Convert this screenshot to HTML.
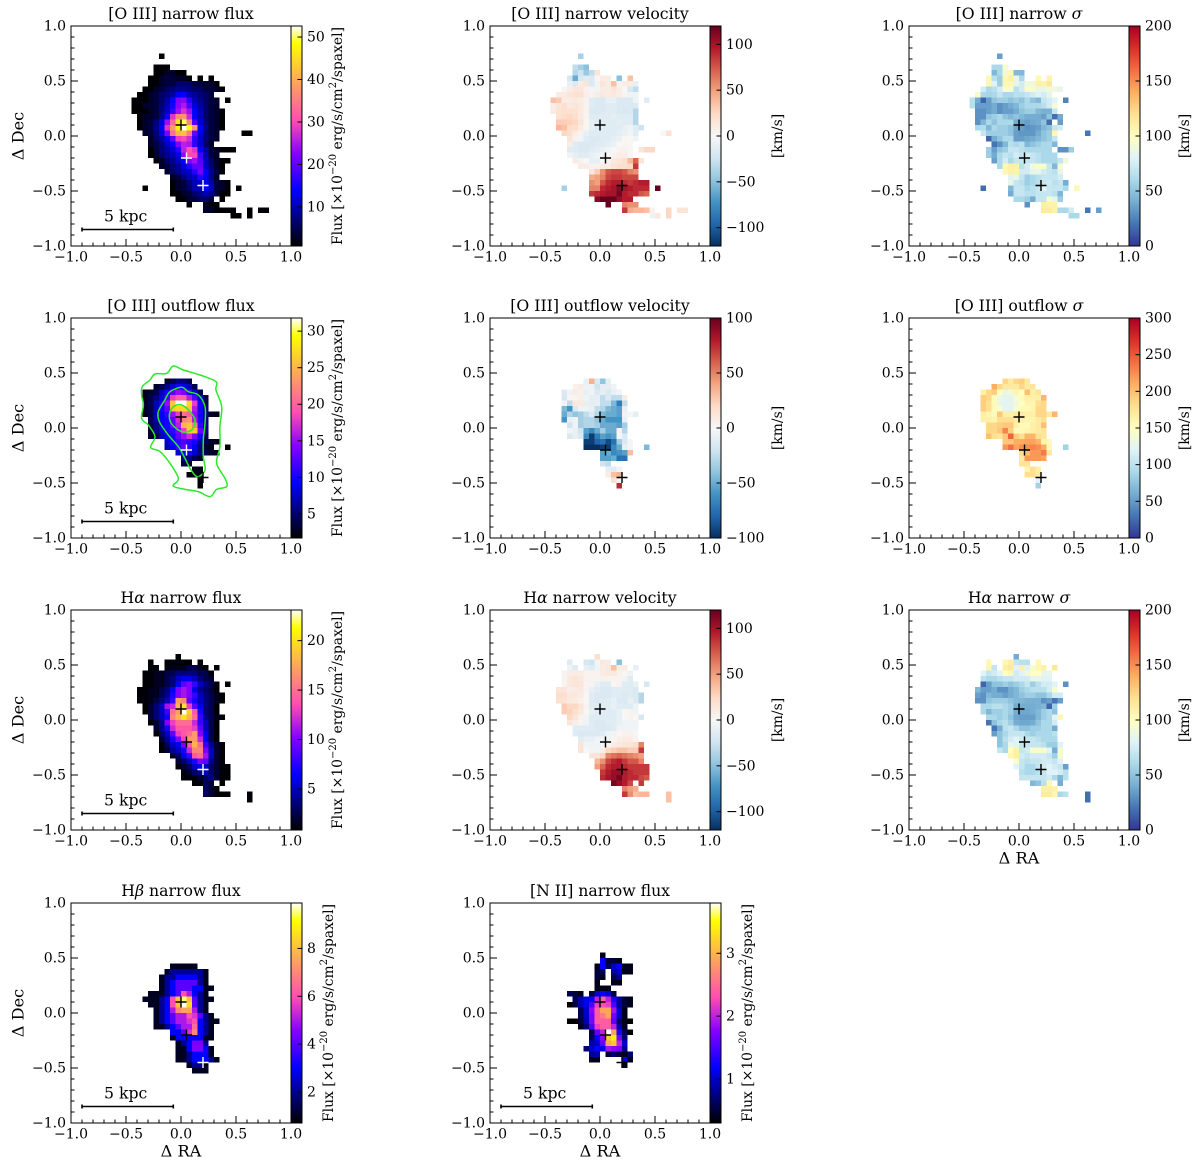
<!DOCTYPE html>
<html lang="en">
<head>
<meta charset="utf-8">
<title>Emission line maps</title>
<style>
html,body{margin:0;padding:0;background:#fff}
svg{display:block;filter:blur(0.3px)}
text{font-family:"DejaVu Serif","Liberation Serif",serif;fill:#000}
.t{font-size:15.7px;text-anchor:middle}
.a{font-size:16.2px;text-anchor:middle;dominant-baseline:central}
.c{font-size:13.9px;text-anchor:middle;dominant-baseline:central}
.tick{font-size:14px}
</style>
</head>
<body>
<svg id="figure" xmlns="http://www.w3.org/2000/svg" width="1200" height="1164" viewBox="0 0 1200 1164">
<rect width="1200" height="1164" fill="#fff"/>

<g id="p-o3-flux">
<text class="t" x="181" y="19">[O III] narrow flux</text>
<text class="a" x="18" y="136" transform="rotate(-90 18 136)">Δ Dec</text>
<text class="c" x="338" y="136" transform="rotate(-90 338 136)">Flux [×10<tspan dy="-5" font-size="10">−20</tspan><tspan dy="5"> erg/s/cm</tspan><tspan dy="-5" font-size="10">2</tspan><tspan dy="5">/spaxel]</tspan></text>
</g>
<g id="p-o3-vel">
<text class="t" x="600" y="19">[O III] narrow velocity</text>
<text class="c" x="778" y="136" transform="rotate(-90 778 136)">[km/s]</text>
</g>
<g id="p-o3-sig">
<text class="t" x="1019" y="19">[O III] narrow <tspan font-style="italic">σ</tspan></text>
<text class="c" x="1185" y="136" transform="rotate(-90 1185 136)">[km/s]</text>
</g>

<g id="p-out-flux">
<text class="t" x="181" y="311">[O III] outflow flux</text>
<text class="a" x="18" y="428" transform="rotate(-90 18 428)">Δ Dec</text>
<text class="c" x="338" y="428" transform="rotate(-90 338 428)">Flux [×10<tspan dy="-5" font-size="10">−20</tspan><tspan dy="5"> erg/s/cm</tspan><tspan dy="-5" font-size="10">2</tspan><tspan dy="5">/spaxel]</tspan></text>
</g>
<g id="p-out-vel">
<text class="t" x="600" y="311">[O III] outflow velocity</text>
<text class="c" x="778" y="428" transform="rotate(-90 778 428)">[km/s]</text>
</g>
<g id="p-out-sig">
<text class="t" x="1019" y="311">[O III] outflow <tspan font-style="italic">σ</tspan></text>
<text class="c" x="1185" y="428" transform="rotate(-90 1185 428)">[km/s]</text>
</g>

<g id="p-ha-flux">
<text class="t" x="181" y="603">H<tspan font-style="italic">α</tspan> narrow flux</text>
<text class="a" x="18" y="720" transform="rotate(-90 18 720)">Δ Dec</text>
<text class="c" x="338" y="720" transform="rotate(-90 338 720)">Flux [×10<tspan dy="-5" font-size="10">−20</tspan><tspan dy="5"> erg/s/cm</tspan><tspan dy="-5" font-size="10">2</tspan><tspan dy="5">/spaxel]</tspan></text>
</g>
<g id="p-ha-vel">
<text class="t" x="600" y="603">H<tspan font-style="italic">α</tspan> narrow velocity</text>
<text class="c" x="778" y="720" transform="rotate(-90 778 720)">[km/s]</text>
</g>
<g id="p-ha-sig">
<text class="t" x="1019" y="603">H<tspan font-style="italic">α</tspan> narrow <tspan font-style="italic">σ</tspan></text>
<text class="c" x="1185" y="720" transform="rotate(-90 1185 720)">[km/s]</text>
<text class="a" x="1019" y="858">Δ RA</text>
</g>

<g id="p-hb-flux">
<text class="t" x="181" y="896">H<tspan font-style="italic">β</tspan> narrow flux</text>
<text class="a" x="18" y="1013" transform="rotate(-90 18 1013)">Δ Dec</text>
<text class="a" x="181" y="1151">Δ RA</text>
<text class="c" x="329" y="1013" transform="rotate(-90 329 1013)">Flux [×10<tspan dy="-5" font-size="10">−20</tspan><tspan dy="5"> erg/s/cm</tspan><tspan dy="-5" font-size="10">2</tspan><tspan dy="5">/spaxel]</tspan></text>
</g>
<g id="p-n2-flux">
<text class="t" x="600" y="896">[N II] narrow flux</text>
<text class="a" x="600" y="1151">Δ RA</text>
<text class="c" x="748" y="1013" transform="rotate(-90 748 1013)">Flux [×10<tspan dy="-5" font-size="10">−20</tspan><tspan dy="5"> erg/s/cm</tspan><tspan dy="-5" font-size="10">2</tspan><tspan dy="5">/spaxel]</tspan></text>
</g>
</svg>

<script>
// Every row below is [gridRow, firstColumn, value, value, ...]; a grid cell spans 0.05 in data units.
const o3NarrowFlux=[[5,16,1],[7,15,1,1,1],[8,15,1,1,3,3,1,1],[9,14,1,1,3,4,4,3,3,1],[9,23,1],[9,25,1],
[10,14,1,1,3,4,4,6,6,6,4,4,3,3,1],[11,13,1,1,3,4,6,7,8,8,7,6,6,4,4,3,1],[12,12,1,1,3,4,6,7,9,13,14,10,9,7,6,4],
[13,11,1,1,1,3,4,6,9,14,22,23,16,10,8,6,4,3],[13,28,1],[14,11,1,1,3,3,4,7,10,15,23,25,19,12,9,6,4,3],
[15,11,1,1,1,3,4,7,11,17,24,28,24,14,10,6,4,3,1],[16,12,1,3,3,4,8,14,28,37,38,27,14,10,6,4,3,1],
[17,12,1,3,4,7,12,24,33,45,50,36,19,11,7,4,3,1],[18,12,1,3,4,8,13,28,38,47,53,48,38,14,8,4,3,1],
[19,13,3,4,7,12,22,34,41,42,35,20,12,7,4,3],[19,31,1,1],[20,14,3,6,9,13,20,29,30,27,17,11,7,4,3],
[21,14,3,4,7,11,14,22,26,25,17,11,6,3],[22,14,1,4,7,9,12,16,26,31,28,14,9,4,3,1,1,1],
[23,14,1,3,6,8,10,12,23,30,30,18,10,4,3],[24,15,1,3,6,8,11,14,22,24,19,11,6,3,1,1],[25,16,3,4,7,9,12,16,20,20,11,7,3,1],
[26,17,3,6,8,10,11,16,21,14,8,4,1],[27,18,3,4,7,10,11,16,13,8,3],[28,18,1,3,4,7,10,11,13,10,4,3,1],
[29,13,1],[29,18,1,3,4,6,9,10,14,11,4,3,1],[29,30,1],[30,18,1,1,3,4,6,8,10,8,4,1,1],[31,19,1,1,3,4,6,6,4],[31,27,1],
[32,21,1],[32,24,3,1,1],[33,24,3,3,1,1,1,1],[33,32,1],[33,34,1,1],[34,29,1,1],[34,32,1]];

const o3NarrowVelocity=[[5,16,-40],[7,15,-30,-40,-50],[8,15,-35,-25,-45,-30,15],[9,14,-20,-60,-20,-15,-18,2,10,10],[9,23,-50],[9,25,35],
[10,14,-10,-18,10,15,-18,-4,15,10,35,5,10,10,-10],[11,13,2,8,15,15,5,3,-4,10,10,15,8,0,-20,-30],
[12,12,10,10,15,18,18,8,3,8,12,10,12,8,3,-6,-6],[13,11,35,30,10,10,12,10,5,-15,-18,-18,-10,-10,-18,-18,-18,-6],[13,28,-15],
[14,11,8,15,20,12,15,12,3,-15,-18,-18,-15,-15,-18,-18,-18,-18],[15,11,10,18,20,18,18,12,5,-18,-18,-18,-15,-15,-18,-20,-18,-35],
[16,12,18,22,25,20,12,3,-15,-15,-15,-15,-12,-15,-15,-15,-35],[17,12,30,30,28,25,15,2,-10,-15,-15,-15,-15,-12,-15,-15,-35],
[18,12,40,35,22,22,10,2,-10,-15,-15,-15,-15,-15,-10,-6,-15,-25],[19,13,25,22,10,5,-10,-15,-15,-15,-15,-15,-12,-8,-4,-15],[19,31,-1,18],
[20,14,15,5,-4,-15,-18,-18,-15,-15,-12,-8,2,0,-4],[21,14,8,-15,-18,-18,-18,-15,-15,-12,-8,0,2,2],
[22,14,-15,-15,-18,-18,-15,-12,-8,-4,0,3,5,2],[22,27,15,25,25],[23,14,-4,-10,-15,-15,-10,-6,-4,0,5,8,8,0],
[24,15,10,5,0,-10,-10,0,5,12,15,20,40,70,15],[25,16,10,8,5,5,8,10,15,20,20,25,85],[26,18,15,30,55,75,80,80,75,60,55],
[27,18,45,50,60,80,85,85,80,80,80],[28,18,55,50,75,90,95,95,90,85,90,95,95],[29,13,-40],
[29,18,60,60,90,95,100,110,100,95,90,90,90],[29,30,125],[30,18,85,90,95,100,100,115,95,90,90,75,70],
[31,19,110,120,120,120,105,95,95],[32,21,125],[32,24,60,55,55],[33,24,85,45,40,40,35,5],[33,32,25],[33,34,15,15],[34,29,-5,12],[34,32,25]];

const o3NarrowSigma=[[5,16,35],[7,15,60,60,95],[8,15,45,60,90,105,45,45],[9,14,105,65,55,105,110,85,60],[9,23,105],[9,25,108],
[10,14,105,80,55,105,105,85,75,90,90,110,108,115],[11,13,75,60,65,75,95,95,65,75,95,95,85,85,90,90,85],
[12,12,95,60,58,60,70,60,60,65,65,70,75,80,75,85],[13,11,65,40,15,35,50,55,55,50,55,50,60,50,45,70,75,80],[13,28,25],
[14,11,65,35,35,35,40,30,35,40,45,55,60,60,60,65,75,95],[15,12,30,30,35,40,30,35,35,40,50,55,55,45,42,42,70],
[16,12,30,30,50,55,60,50,45,50,45,40,40,40,35,50,18,40],[17,12,30,45,60,50,60,60,60,40,38,35,38,40,50,18],[17,27,35],
[18,12,60,62,45,60,55,55,50,38,35,30,32,35,45,50,70,75],[19,13,70,55,55,55,55,50,35,32,32,32,40,50,55,105],[19,32,20],
[20,14,15,40,50,60,60,35,35,38,40,45,50,55,70],[21,15,20,30,45,65,60,65,45,50,55,60,60,45],
[22,14,55,35,50,55,70,70,65,60,60,60,60,60],[22,27,30,30,55],[23,14,55,40,60,70,65,75,70,75,70,65,60,60,60],
[24,15,35,60,75,60,70,70,70,70,65,60,60,60,70,90],[25,16,60,105,110,110,65,75,90,95,95,70,45,95],[26,17,105,110,108,75,75,85,85,75,70,65,85],
[27,18,80,85,70,55,60,65,70,70,70,75],[28,18,85,70,65,55,60,65,70,72,65,70,40],[29,13,18],
[29,18,45,70,70,60,65,70,80,70,70,70,60],[29,30,105],[30,18,40,70,70,65,65,70,70,70,65,45],[31,19,60,60,55,40,70,70,95,85,55],
[32,21,30],[32,24,110,108,108],[33,24,112,112,108,60,60,75],[33,32,20],[33,34,35],[34,29,60,60]];

const outflowFlux=[[11,17,3,4,5.5,5.5,4],[12,15,3,4,5.5,8,10,9,7,4],[13,13,2.5,3,4,7,10,13,15,14,11,8,4],[14,13,2.5,4,5.5,8,12,18,20,20,16,12,8,4],
[15,13,3,4,7,10,15,26,32,32,27,18,10,4],[16,13,3,4,7,10,13,26,27,27,26,16,10,5.5],[17,13,2.5,4,7,9,11,15,18,21,20,15,10,5.5,3,2.5],
[18,14,4,7,9,10,13,17,22,23,16,10,5.5],[19,14,4,5.5,9,10,13,16,25,26,22,11,5.5],[20,14,3,5.5,8,10,11,14,18,26,26,13,5.5],[21,14,3,4,7,9,10,13,15,17,14,10,4],
[22,17,8,10,11,12,11,10,7,4,3,2.5],[23,17,7,9,11,13,11,9,5.5,3,2.5],[23,28,2],[24,19,8,9,10,8,5.5,4,3,2.5],[25,20,5.5,5.5,4,3],[26,20,4,3],[27,22,2.5,2.5],[28,21,2,2.5,2],[29,23,2],[30,23,2]];

const outflowVelocity=[[11,17,-8,35,-15,-40,-10],[12,15,5,8,-5,-5,-20,-10,-10,-5],[13,13,-15,-3,8,5,-8,-5,-15,-10,-15,-8,-3],
[14,13,-18,2,2,5,-5,-10,-10,-25,-15,-25,-25,8],[15,13,-3,-25,10,10,-8,-10,-8,-25,-25,-45,-70,-25],[16,13,-45,-60,-15,-5,-5,-8,-25,-30,-45,-50,-55,-8],
[17,13,-50,-30,-40,-35,-25,-15,-30,-45,-50,-50,-55,-5,-2,-10],[18,13,-60,-8,-5,-35,-30,-30,-40,-50,-60,-60,-60,-8],
[19,14,-20,-5,-35,-30,-30,-35,-50,-50,-50,-55,-35],[20,14,-3,-8,-20,-55,-65,-50,-35,-50,-50,-3,-30],[21,14,-15,-8,-15,-65,-95,-70,-55,-60,-55,-2,-15],
[22,17,-95,-95,-80,-75,-90,-75,-35,-15,-2],[23,17,-100,-100,-100,-95,-95,-65,-50,-8,-2],[23,28,-45],[24,20,-55,-50,-65,-60,-55,30],[25,20,-55,-55,-50,-75,-75],
[26,20,-20,-25],[27,21,-10,-12,-3],[28,21,8,30,35],[29,22,15,3],[30,23,75]];

const outflowSigma=[[11,17,185,170,185,190,170],[12,15,210,185,170,170,170,185,170,175],[13,13,165,185,190,150,130,135,160,150,200,165,175],
[14,13,190,185,155,130,125,125,140,155,165,165,165,205],[15,13,190,180,155,130,122,125,135,150,160,160,180,185],
[16,13,190,180,155,145,122,122,145,155,155,160,185,185],[17,13,165,160,155,195,165,165,170,170,165,165,185,185,170,205],
[18,13,165,165,160,180,180,180,170,165,160,160,170,180],[19,14,185,185,190,195,195,165,155,155,165,170,200],
[20,14,185,185,195,230,190,155,155,160,165,170,175],[21,14,200,180,175,195,245,190,180,205,205,180,175],
[22,17,195,195,210,210,215,215,205,160,155],[23,17,220,240,215,225,225,230,225,210,155],[23,28,85],[24,20,180,200,220,220,235,170],
[25,20,170,220,220,220,215],[26,20,175,175],[27,21,160,180,165],[28,21,180,180,170],[29,23,120],[30,23,85]];

const haNarrowFlux=[[8,19,1],[9,14,1],[9,17,1,1,1,1,1],[9,23,1],[10,14,1,1],[10,17,1,1.5,1.5,1.5,2.5,2.5,1.5,1],[10,26,1],
[11,13,1,1,1.5,1.5,2.5,2.5,3.5,3.5,3.5,3.5,2.5,2.5,1],[12,13,1,1,1.5,1.5,2.5,3.5,5,6,6,5,3.5,2.5,2],[13,13,1,1,1.5,1.5,2.5,3.5,6,9,10,8,5,3.5,2.5,1],[13,28,1],
[14,12,1,1,1.5,1.5,2.5,3.5,6,10,11,10,6,4,3,2,1],[15,12,1,1,1.5,1.5,2.5,4,7,10,11,10,8,5,3.5,2.5,1.5,1],[16,12,1,1,1.5,2.5,3.5,5,8,17,16,9,7,5,3.5,2.5,1.5,1],
[17,13,1,2,3.5,5,11,12,18,20,13,9,6,3.5,2.5,1],[18,13,1,2,3.5,5,8,15,17,23,19,14,7,3.5,2.5,1],[19,14,2,3.5,5,7,16,18,20,18,15,8,4,2.5,1.5,1],
[20,14,1,2,4,10,13,15,15,15,12,8,5,2.5,1],[21,15,2,4,7,12,14,14,14,13,9,5,2.5,1],[22,15,1,3,5,9,13,14,15,17,10,6,2.5,1],
[23,16,2,4,7,10,13,17,17,12,6,2.5,1],[24,16,1,3,5,6,10,14,18,15,8,4,2,1],[25,16,1,2,4,5,7,12,16,16,10,5,2,1],[26,18,2,3,6,8,14,15,11,5,2,1],
[27,19,2,3,5,7,10,9,4,2,1],[28,19,1,2,3,5,6,5,3,2,1,1],[29,20,1,2,3,4,5,3,2,1,1],[30,20,1,1,1,2,3,4,2,1,1],[31,22,1,1,3,2],[31,27,1],
[32,24,3,2,1],[33,24,3,2,1,1,1],[33,32,1],[34,32,1]];

const haNarrowVelocity=[[8,19,20],[9,14,-15],[9,17,-20,-25,-3,12,10],[9,23,-50],[10,14,-6,-15],[10,17,-10,-15,-6,10,12,35,10,10],[10,26,-10],
[11,13,3,8,10,10,4,3,3,10,12,12,6,2,-6],[12,13,3,12,15,12,5,5,3,4,5,3,3,-4,-15],[13,13,3,12,15,15,3,3,-10,-15,-15,2,3,-15,-15,-10],[13,28,-20],
[14,12,15,15,8,10,12,3,-10,-15,-18,-18,-15,-15,-15,-15,-18],[15,12,22,20,12,12,10,2,-15,-18,-18,-18,-15,-15,-18,-15,-18,-35],
[16,12,20,18,12,10,5,2,-15,-18,-15,-15,-10,-18,-18,-10,-18,-35],[17,13,30,25,25,15,3,-15,-15,-15,-15,-10,-15,-15,-15,-6],
[18,13,30,28,20,12,2,-10,-15,-15,-15,-15,-10,2,3,-6],[19,14,25,15,5,-4,-15,-15,-15,-15,-15,-10,2,3,2,-20],[20,14,15,8,3,-6,-15,-18,-18,-15,-15,-10,-4,-4,-4],
[21,15,-15,-15,-15,-15,-18,-18,-18,-15,-4,-4,-4,-4],[22,15,-15,-18,-18,-18,-18,-15,-6,-4,2,4,4,2],[23,16,-15,-10,-10,-4,-4,-4,3,8,10,10,5],
[24,16,15,-4,-6,-6,-4,3,8,12,15,15,20,60],[25,16,15,2,-4,-4,8,25,30,35,35,30,30,85],[26,18,15,15,25,60,65,70,65,60,55,50],
[27,19,40,55,80,90,95,85,75,75,60],[28,19,50,70,90,95,95,90,85,85,85,85],[29,20,85,95,105,105,95,90,85,85,85],[30,20,90,100,105,115,95,90,90,80,75],
[31,22,115,105,95,80],[31,27,85],[32,24,60,50,45],[33,24,85,55,35,40,40],[33,32,35],[34,32,35]];

const haNarrowSigma=[[8,19,40],[9,14,105],[9,17,105,110,70,65,65],[9,23,105],[10,14,105,70],[10,17,110,115,80,110,80,95,105,108],[10,26,115],
[11,13,80,70,75,80,100,105,75,80,90,100,100,85,85],[12,13,65,60,60,65,70,70,75,75,75,85,85,80,80],[13,13,15,35,50,50,55,50,55,60,70,55,65,75,75,80],[13,28,30],
[14,12,45,35,35,40,30,30,40,45,55,60,65,65,65,75,95],[15,12,35,30,45,40,40,35,40,45,50,55,55,50,50,60,75,75],
[16,12,30,30,50,55,55,55,50,45,45,42,42,42,30,35,20,35],[17,13,60,60,65,65,60,55,40,40,40,40,42,45,15,55],
[18,13,60,45,55,55,60,55,40,38,38,40,45,55,60,50],[19,14,60,60,55,60,50,38,35,35,35,45,55,60,80,105],
[20,14,20,50,60,65,55,40,38,38,40,50,60,60,75],[21,15,20,40,65,70,60,50,50,55,55,60,60,40],[22,15,35,50,60,70,70,70,60,55,60,60,60,65],
[23,16,50,65,75,80,75,70,70,65,60,60,60],[24,16,50,60,85,80,70,70,70,70,65,55,55,80],[25,16,70,60,100,110,70,75,95,95,95,80,40,95],
[26,18,105,110,75,70,75,75,75,70,55,95],[27,19,100,70,65,70,70,75,75,70,80],[28,19,80,70,60,60,70,75,80,75,70,35],[29,20,65,60,60,65,70,80,80,75,65],
[30,20,70,70,70,70,70,75,60,45,65],[31,22,45,50,65,105],[31,27,40],[32,24,110,110,108],[33,24,112,112,105,60,65],[33,32,18],[34,32,18]];

const hbNarrowFlux=[[11,18,1,1,1,1,1],[12,17,1,2,2,2,2,2,2,1],[13,16,1,2,2,3,3,3,3,2,1],[14,16,1,2,3,4,4,4,4,2,1],[15,16,1,2,3,4,4,4,3,3,1,1],
[16,14,1,1,1,2,3,4,6,5,3,2,1],[17,13,1,1,1,2,3,6,8,9.5,8,4,2,1,1],[18,14,1,1,2,3,6,8,10,8.5,4,2,1],[19,15,1,2,3,5,7,7.5,7.5,5,2,1],
[20,15,1,2,3,4,5,5,6,5.5,4,2,1],[21,15,1,2,3,4,5,5,5.5,6,3,2,1,1],[22,15,1,1,2,3,4,5,5,6.5,3,2,1],[23,18,3,3,4,5.5,7,3,2,1],[24,18,1,3,3,3,3,3,1,1],
[25,19,1,2,3,4.4,4.4,2],[26,19,1,1,3,4.5,4.5,3,1],[27,19,1,1,2,3,3,3,1],[28,19,1,1,2,3,3,3,2,1],[29,21,1,2,2,1],[30,22,1,1,1]];

const n2NarrowFlux=[[9,20,0.4],[10,20,1.2,0.5,0.5,0.4],[11,19,0.4,1.2,0.6,1,1.2,0.4,0.4],[12,19,0.5,0.6],[12,22,0.8,1,0.4,0.4],[13,19,0.5,0.4],[13,22,0.6,0.8],
[14,19,0.4],[14,22,0.4,0.4],[15,19,0.4,0.4,0.4],[16,14,0.6,0.5,0.4],[16,18,0.5,1,1.2,1,0.5],[17,15,0.6,0.9,1.1,1.2,2,2.4,2,1.3,0.8,0.5,0.4],
[18,14,0.3,0.5,0.9,1.1,1.5,2.2,2.3,2.2,1.5,0.8,0.5,0.4],[19,16,0.6,1,1.8,2.4,2.9,2.9,1.9,1,0.4],[20,16,0.6,1,1.7,2.4,2.6,2.9,1.7,1,0.4],
[21,14,0.3,0.3,0.5,0.9,1.7,2.4,2.4,2.4,1.6,0.7,0.4,0.3],[22,16,0.4,0.7,1.5,2.2,2.4,2.4,2,0.9,0.4],[23,18,0.6,1.6,2,3.8,2.9,1.3,0.6,0.3],
[24,18,0.6,1.2,1.8,3.2,3.4,1.7,0.7],[25,18,0.9,1,1.6,2.9,3.1,2,1],[26,17,0.7,1,1.2,1.1,1.9,1.8,1.7,0.8],[27,18,0.8,0.9],[27,21,0.5,0.7,0.5,0.4,0.7],
[28,18,0.4,0.4],[28,24,1.1,0.4],[29,24,0.4]];

// Contour levels of the [O III] narrow flux drawn over the outflow flux map, as [dRA, dDec].
const contourOuter=[[-0.070,0.564],[-0.130,0.497],[-0.236,0.491],[-0.282,0.436],[-0.352,0.376],[-0.358,0.300],[-0.342,0.209],[-0.358,0.088],[-0.297,0.027],[-0.236,-0.079],[-0.276,-0.176],[-0.191,-0.215],[-0.100,-0.321],[-0.024,-0.458],[-0.070,-0.527],[0.036,-0.558],[0.158,-0.579],[0.264,-0.624],[0.324,-0.558],[0.415,-0.533],[0.400,-0.458],[0.324,-0.321],[0.354,-0.170],[0.354,0.012],[0.370,0.194],[0.318,0.345],[0.318,0.421],[0.173,0.482],[0.021,0.527]];
const contourMiddle=[[0.006,0.370],[-0.100,0.330],[-0.146,0.255],[-0.206,0.149],[-0.197,0.058],[-0.115,-0.064],[-0.024,-0.170],[0.036,-0.276],[0.082,-0.367],[0.148,-0.443],[0.218,-0.382],[0.203,-0.261],[0.203,-0.109],[0.218,0.042],[0.218,0.194],[0.158,0.300],[0.067,0.330]];
const contourInner=[[0.006,0.209],[-0.070,0.194],[-0.106,0.118],[-0.085,0.036],[0.006,-0.033],[0.097,-0.018],[0.127,0.073],[0.082,0.149]];

const axisMajorTicks=[-1,-0.5,0,0.5,1];
const axisMinorTicks=[-0.9,-0.8,-0.7,-0.6,-0.4,-0.3,-0.2,-0.1,0.1,0.2,0.3,0.4,0.6,0.7,0.8,0.9];
const axisDomain=[-1,1];
const nucleusX=[0,0.05,0.2];
const nucleusY=[0.1,-0.2,-0.45];
const scaleBarRange=[-0.9,-0.07];
const scaleBarY=[-0.85];
const scaleBarLabel="5 kpc";

const fluxTicks1=[10,20,30,40,50], fluxRange1=[0.8,52.6];
const fluxTicks2=[5,10,15,20,25,30], fluxRange2=[1.7,31.8];
const fluxTicks3=[5,10,15,20], fluxRange3=[0.85,23.1];
const fluxTicks4=[2,4,6,8], fluxRange4=[0.7,9.9];
const fluxTicks5=[1,2,3], fluxRange5=[0.3,3.8];
const velTicks120=[-100,-50,0,50,100], velRange120=[-120,120];
const velTicks100=[-100,-50,0,50,100], velRange100=[-100,100];
const sigTicks200=[0,50,100,150,200], sigRange200=[0,200];
const sigTicks300=[0,50,100,150,200,250,300], sigRange300=[0,300];

const rdBuStops=["#053061","#2166ac","#4393c3","#92c5de","#d1e5f0","#f7f7f7","#fddbc7","#f4a582","#d6604d","#b2182b","#67001f"];
const rdYlBuStops=["#313695","#4575b4","#74add1","#abd9e9","#e0f3f8","#ffffbf","#fee090","#fdae61","#f46d43","#d73027","#a50026"];

const panels=[
 {id:"p-o3-flux",col:0,row:0,cells:o3NarrowFlux,cmap:"gnuplot2",range:fluxRange1,ticks:fluxTicks1,plus:["#000","#fff","#fff"],scale:true},
 {id:"p-o3-vel",col:1,row:0,cells:o3NarrowVelocity,cmap:"rdbu",range:velRange120,ticks:velTicks120,plus:["#000","#000","#000"]},
 {id:"p-o3-sig",col:2,row:0,cells:o3NarrowSigma,cmap:"rdylbu",range:sigRange200,ticks:sigTicks200,plus:["#000","#000","#000"]},
 {id:"p-out-flux",col:0,row:1,cells:outflowFlux,cmap:"gnuplot2",range:fluxRange2,ticks:fluxTicks2,plus:["#000","#fff","#000"],scale:true,contours:true},
 {id:"p-out-vel",col:1,row:1,cells:outflowVelocity,cmap:"rdbu",range:velRange100,ticks:velTicks100,plus:["#000","#000","#000"]},
 {id:"p-out-sig",col:2,row:1,cells:outflowSigma,cmap:"rdylbu",range:sigRange300,ticks:sigTicks300,plus:["#000","#000","#000"]},
 {id:"p-ha-flux",col:0,row:2,cells:haNarrowFlux,cmap:"gnuplot2",range:fluxRange3,ticks:fluxTicks3,plus:["#000","#000","#fff"],scale:true},
 {id:"p-ha-vel",col:1,row:2,cells:haNarrowVelocity,cmap:"rdbu",range:velRange120,ticks:velTicks120,plus:["#000","#000","#000"]},
 {id:"p-ha-sig",col:2,row:2,cells:haNarrowSigma,cmap:"rdylbu",range:sigRange200,ticks:sigTicks200,plus:["#000","#000","#000"]},
 {id:"p-hb-flux",col:0,row:3,cells:hbNarrowFlux,cmap:"gnuplot2",range:fluxRange4,ticks:fluxTicks4,plus:["#000","#000","#fff"],scale:true},
 {id:"p-n2-flux",col:1,row:3,cells:n2NarrowFlux,cmap:"gnuplot2",range:fluxRange5,ticks:fluxTicks5,plus:["#000","#000","#000"],scale:true}
];

const NS="http://www.w3.org/2000/svg";
const colLeft=[71,490,909], rowTop=[26,318,610,903];
const AX=220, BAR=11, CELL=0.05;

function mk(parent,tag,attrs,txt){
  const e=document.createElementNS(NS,tag);
  for(const k in attrs)e.setAttribute(k,attrs[k]);
  if(txt!==undefined)e.textContent=txt;
  parent.appendChild(e);
  return e;
}
function clamp(v){return Math.max(0,Math.min(1,v))}
function rgb(r,g,b){return "rgb("+Math.round(r*255)+","+Math.round(g*255)+","+Math.round(b*255)+")"}
function gnuplot2(t){
  const r=clamp(t/0.32-0.78125), g=clamp(2*t-0.84);
  const b=t<0.25?clamp(4*t):(t<0.92?clamp(-2*t+1.84):clamp(t/0.08-11.5));
  return rgb(r,g,b);
}
function fromStops(stops,t){
  const f=clamp(t)*(stops.length-1), i=Math.min(stops.length-2,Math.floor(f)), u=f-i;
  const h=(s,p)=>parseInt(s.substr(p,2),16)/255;
  return rgb(h(stops[i],1)*(1-u)+h(stops[i+1],1)*u,h(stops[i],3)*(1-u)+h(stops[i+1],3)*u,h(stops[i],5)*(1-u)+h(stops[i+1],5)*u);
}
function colour(name,t){
  if(name==="gnuplot2")return gnuplot2(clamp(t));
  return fromStops(name==="rdbu"?rdBuStops:rdYlBuStops,t);
}
function xScale(p,v){return colLeft[p.col]+(v-axisDomain[0])/(axisDomain[1]-axisDomain[0])*AX}
function yScale(p,v){return rowTop[p.row]+(axisDomain[1]-v)/(axisDomain[1]-axisDomain[0])*AX}
function barY(p,v){return rowTop[p.row]+AX-(v-p.range[0])/(p.range[1]-p.range[0])*AX}
function fmt(v){return (v<0?"−":"")+Math.abs(v).toFixed(1)}
function fmtInt(v){return (v<0?"−":"")+Math.abs(v)}

function smoothClosed(p,pts){
  const q=pts.map(d=>[xScale(p,d[0]),yScale(p,d[1])]), n=q.length;
  let s="M"+q[0][0].toFixed(1)+" "+q[0][1].toFixed(1);
  for(let i=0;i<n;i++){
    const a=q[(i-1+n)%n],b=q[i],c=q[(i+1)%n],d=q[(i+2)%n];
    s+="C"+(b[0]+(c[0]-a[0])/6).toFixed(1)+" "+(b[1]+(c[1]-a[1])/6).toFixed(1)+" "+(c[0]-(d[0]-b[0])/6).toFixed(1)+" "+(c[1]-(d[1]-b[1])/6).toFixed(1)+" "+c[0].toFixed(1)+" "+c[1].toFixed(1);
  }
  return s+"Z";
}

panels.forEach(function(p){
  const g=document.getElementById(p.id);
  const L=colLeft[p.col], T=rowTop[p.row], R=L+AX, B=T+AX;

  const cellGroup=mk(g,"g",{"shape-rendering":"crispEdges"});
  
  
  p.cells.forEach(function(row){
    for(let i=2;i<row.length;i++){
      const c=row[1]+i-2;
      const x0=xScale(p,c*CELL-1), x1=xScale(p,(c+1)*CELL-1);
      const y0=yScale(p,1-row[0]*CELL), y1=yScale(p,1-(row[0]+1)*CELL);
      const cell=mk(cellGroup,"rect",{x:x0,y:y0,width:x1-x0,height:y1-y0,fill:colour(p.cmap,(row[i]-p.range[0])/(p.range[1]-p.range[0]))});
      
      
    }
  });

  if(p.contours){
    [contourOuter,contourMiddle,contourInner].forEach(function(pts){
      const line=mk(g,"path",{d:smoothClosed(p,pts),fill:"none",stroke:"#2be82b","stroke-width":1.5});
      
      
    });
  }

  nucleusX.forEach(function(nx,i){
    const cx=xScale(p,nx), cy=yScale(p,nucleusY[i]);
    const mark=mk(g,"path",{d:"M"+(cx-5.5)+" "+cy+"H"+(cx+5.5)+"M"+cx+" "+(cy-5.5)+"V"+(cy+5.5),stroke:p.plus[i],"stroke-width":1.4,fill:"none"});
    
    
  });

  if(p.scale){
    const x0=xScale(p,scaleBarRange[0]), x1=xScale(p,scaleBarRange[1]), y=yScale(p,scaleBarY[0]);
    const bar=mk(g,"path",{d:"M"+x0+" "+y+"H"+x1+"M"+x0+" "+(y-2)+"V"+(y+2)+"M"+x1+" "+(y-2)+"V"+(y+2),stroke:"#000","stroke-width":1.6,fill:"none"});
    
    
    const lab=mk(g,"text",{x:(x0+x1)/2-2,y:y-8,"text-anchor":"middle","font-size":"15.7px"},scaleBarLabel);
    
    
  }

  const frame=mk(g,"rect",{x:L,y:T,width:AX,height:AX,fill:"none",stroke:"#000","stroke-width":1});
  
  

  let d="";
  axisMinorTicks.forEach(function(v){
    d+="M"+xScale(p,v)+" "+B+"v-3.5M"+L+" "+yScale(p,v)+"h3.5";
  });
  axisMajorTicks.forEach(function(v){
    d+="M"+xScale(p,v)+" "+B+"v-7M"+L+" "+yScale(p,v)+"h7";
  });
  const ticks=mk(g,"path",{d:d,stroke:"#000","stroke-width":1,fill:"none"});
  
  

  axisMajorTicks.forEach(function(v){
    const xl=mk(g,"text",{class:"tick",x:xScale(p,v),y:B+11.5,"text-anchor":"middle","dominant-baseline":"central"},fmt(v));
    
    
    const yl=mk(g,"text",{class:"tick",x:L-5,y:yScale(p,v)+0.5,"text-anchor":"end","dominant-baseline":"central"},fmt(v));
    
    
  });

  const cb=mk(g,"g",{"shape-rendering":"crispEdges"});
  
  
  for(let i=0;i<AX;i++){
    const s=mk(cb,"rect",{x:R,y:B-i-1,width:BAR,height:1,fill:colour(p.cmap,(i+0.5)/AX)});
    
    
  }
  const cbFrame=mk(g,"rect",{x:R,y:T,width:BAR,height:AX,fill:"none",stroke:"#000","stroke-width":1});
  
  
  p.ticks.forEach(function(v){
    const y=barY(p,v);
    const t=mk(g,"path",{d:"M"+(R+BAR)+" "+y+"h-4.5",stroke:"#000","stroke-width":1});
    
    
    const l=mk(g,"text",{class:"tick",x:R+BAR+5,y:y+0.5,"dominant-baseline":"central"},fmtInt(v));
    
    
  });
});
</script>
</body>
</html>
